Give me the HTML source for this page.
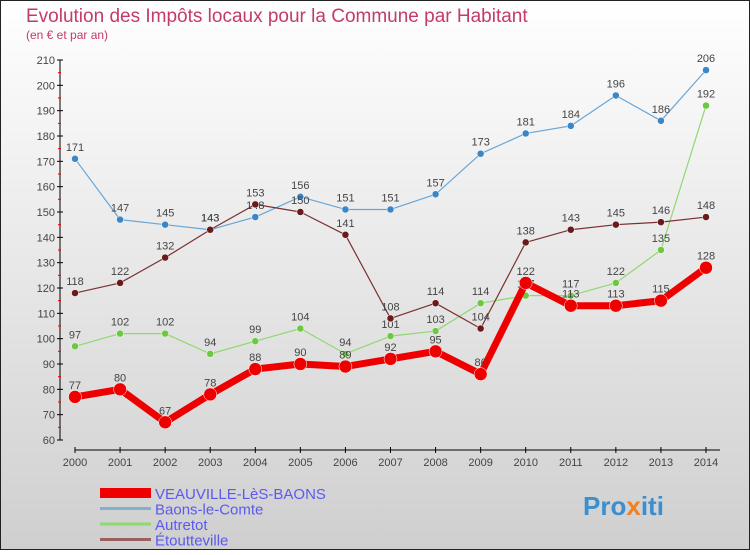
<!DOCTYPE html>
<html><head><meta charset="utf-8"><style>
body{margin:0;width:750px;height:550px;overflow:hidden;font-family:"Liberation Sans",sans-serif}
</style></head><body>
<svg width="750" height="550" xmlns="http://www.w3.org/2000/svg">
<defs><linearGradient id="bg" x1="0" y1="0" x2="0" y2="1"><stop offset="0" stop-color="#ffffff"/><stop offset="1" stop-color="#cfcfcf"/></linearGradient></defs>
<rect x="0.5" y="0.5" width="749" height="549" fill="url(#bg)" stroke="#222"/>
<text x="26" y="22" font-size="19" fill="#c43a6a">Evolution des Impôts locaux pour la Commune par Habitant</text>
<text x="26" y="39" font-size="12" fill="#c43a6a">(en € et par an)</text>
<g id="axes"></g>
<g id="series"></g>
<g id="legend"></g>
<text x="583" y="515" font-size="26" font-weight="bold" fill="#3a8fd0">Pro<tspan fill="#f08020">x</tspan>iti</text>
</svg>
<script>
const years=[2000,2001,2002,2003,2004,2005,2006,2007,2008,2009,2010,2011,2012,2013,2014];
const yTicks=[60,70,80,90,100,110,120,130,140,150,160,170,180,190,200,210];
const veauville=[77,80,67,78,88,90,89,92,95,86,122,113,113,115,128];
const baons=[171,147,145,143,148,156,151,151,157,173,181,184,196,186,206];
const autretot=[97,102,102,94,99,104,94,101,103,114,117,117,122,135,192];
const etoutteville=[118,122,132,143,153,150,141,108,114,104,138,143,145,146,148];
const names=["VEAUVILLE-LèS-BAONS","Baons-le-Comte","Autretot","Étoutteville"];
const NS="http://www.w3.org/2000/svg";
const X=i=>75+i*(706-75)/14;
const Y=v=>440-(v-60)*380/150;
function mk(tag,attrs,parent,text){const e=document.createElementNS(NS,tag);for(const k in attrs)e.setAttribute(k,attrs[k]);if(text!==undefined)e.textContent=text;parent.appendChild(e);return e;}
const ax=document.getElementById('axes');
let yl=mk('line',{x1:60,y1:Y(210),x2:60,y2:Y(60),stroke:'#000'},ax);


yTicks.forEach(v=>{mk('line',{x1:57,y1:Y(v),x2:63,y2:Y(v),stroke:'#000'},ax);
 if(v<210)mk('line',{x1:58,y1:Y(v+5),x2:61,y2:Y(v+5),stroke:'#e00'},ax);
 const t=mk('text',{x:55,y:Y(v)+4,'font-size':11,fill:'#444','text-anchor':'end'},ax,v);
 
 });
let xl=mk('line',{x1:75,y1:450,x2:720,y2:450,stroke:'#000'},ax);


years.forEach((y,i)=>{mk('line',{x1:X(i),y1:447,x2:X(i),y2:453,stroke:'#000'},ax);
 const t=mk('text',{x:X(i),y:466,'font-size':11,fill:'#444','text-anchor':'middle'},ax,y);
 
 });
const sg=document.getElementById('series');
function draw(data,color,w,r,name,dot){
 const g=mk('g',{},sg);
 
 
 mk('polyline',{points:data.map((v,i)=>X(i)+','+Y(v)).join(' '),fill:'none',stroke:color,'stroke-width':w,'stroke-linejoin':'round'},g);
 data.forEach((v,i)=>{const c=mk('circle',{cx:X(i),cy:Y(v),r:r,fill:dot,stroke:'#fff','stroke-width':0.5},g);
  
  
  const t=mk('text',{x:X(i),y:Y(v)-8,'font-size':11,fill:'#444','text-anchor':'middle'},g,v);
  
  });
}
draw(baons,'#6aa6d6',1.2,3.5,'series-baons','#3a86c6');
draw(autretot,'#8fd870',1.2,3.5,'series-autretot','#6cc840');
draw(etoutteville,'#7a3030',1.2,3.5,'series-etoutteville','#6a1a1a');
draw(veauville,'#ee0000',7,6.5,'series-veauville','#ee0000');
const lg=document.getElementById('legend');
const lc=['#ee0000','#7fb0d0','#90d870','#9a6060'],lw=[10,3,3,3];
names.forEach((n,i)=>{const yy=493+i*15.5;
 const g=mk('g',{},lg);
 
 
 mk('line',{x1:100,y1:yy,x2:151,y2:yy,stroke:lc[i],'stroke-width':lw[i]},g);
 mk('text',{x:155,y:yy+6,'font-size':15,fill:'#5a5af0'},g,n);});
</script>
</body></html>
